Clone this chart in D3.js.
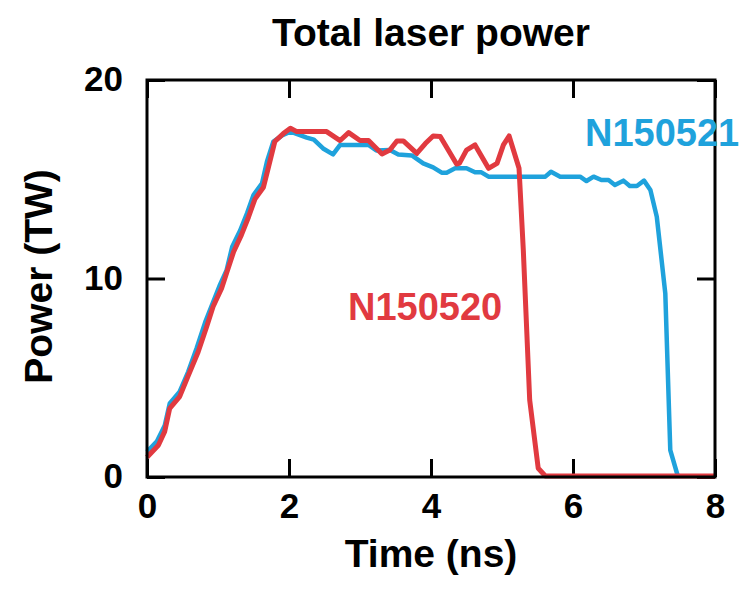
<!DOCTYPE html>
<html>
<head>
<meta charset="utf-8">
<script src="https://cdn.jsdelivr.net/npm/d3@7"></script>
<style>
  html, body { margin: 0; padding: 0; background: #fff; }
  svg { display: block; }
  text { font-family: "Liberation Sans", Arial, Helvetica, sans-serif; font-weight: bold; }
</style>
</head>
<body>
<svg id="chart" width="747" height="589"></svg>
<script>
// ---- data ----
const redName = "N150520";
const redTime = [0, 0.16, 0.25, 0.32, 0.46, 0.58, 0.72, 0.84, 0.93, 1.05, 1.12, 1.22, 1.33, 1.43, 1.52, 1.64, 1.71, 1.80, 1.92, 2.02, 2.11, 2.53, 2.72, 2.84, 3.0, 3.12, 3.31, 3.42, 3.52, 3.61, 3.80, 3.92, 4.03, 4.13, 4.36, 4.40, 4.50, 4.62, 4.81, 4.93, 5.02, 5.10, 5.24, 5.30, 5.39, 5.51, 5.61, 8.0];
const redPower = [1.0, 1.6, 2.3, 3.46, 4.05, 5.1, 6.3, 7.57, 8.58, 9.5, 10.26, 11.35, 12.2, 13.1, 14.0, 14.6, 15.6, 16.9, 17.3, 17.57, 17.4, 17.4, 16.95, 17.35, 16.95, 16.95, 16.27, 16.47, 16.93, 16.93, 16.3, 16.8, 17.18, 17.15, 15.77, 15.8, 16.47, 16.73, 15.55, 15.8, 16.73, 17.18, 15.55, 11.44, 3.88, 0.44, 0.05, 0.05];

const blueName = "N150521";
const blueTime = [0, 0.14, 0.25, 0.32, 0.46, 0.58, 0.70, 0.82, 0.93, 1.03, 1.12, 1.20, 1.31, 1.41, 1.50, 1.62, 1.69, 1.78, 1.90, 2.02, 2.25, 2.35, 2.48, 2.62, 2.72, 3.12, 3.23, 3.42, 3.54, 3.73, 3.89, 4.03, 4.15, 4.22, 4.34, 4.50, 4.62, 4.71, 4.81, 5.61, 5.69, 5.82, 6.10, 6.19, 6.29, 6.40, 6.50, 6.59, 6.71, 6.80, 6.90, 7.0, 7.09, 7.18, 7.30, 7.37, 7.48];
const bluePower = [1.27, 1.8, 2.6, 3.7, 4.3, 5.3, 6.5, 7.8, 8.8, 9.7, 10.4, 11.6, 12.4, 13.3, 14.2, 14.8, 15.9, 16.9, 17.2, 17.4, 17.1, 17.0, 16.55, 16.25, 16.73, 16.73, 16.45, 16.47, 16.25, 16.2, 15.8, 15.6, 15.33, 15.33, 15.55, 15.55, 15.35, 15.35, 15.13, 15.13, 15.38, 15.13, 15.13, 14.91, 15.13, 14.96, 14.96, 14.71, 14.93, 14.66, 14.66, 14.93, 14.46, 13.11, 9.25, 1.36, 0.0];

const xTicks = [0, 2, 4, 6, 8];
const yTicks = [0, 10, 20];
const titleText = "Total laser power";
const xLabel = "Time (ns)";
const yLabel = "Power (TW)";

// ---- layout ----
const W = 747, H = 589;
const margin = { left: 147, right: 32, top: 80, bottom: 112 };
const iw = W - margin.left - margin.right;
const ih = H - margin.top - margin.bottom;
const BLUE = "#1fa2dc", RED = "#e13a40";

const svg = d3.select("#chart");
const g = svg.append("g").attr("transform", `translate(${margin.left},${margin.top})`);

const x = d3.scaleLinear().domain([0, 8]).range([0, iw]);
const y = d3.scaleLinear().domain([0, 20]).range([ih, 0]);

const TICK = 18;
function styleAxis(sel, fontSize) {
  sel.select(".domain").remove();
  sel.selectAll(".tick line").attr("stroke", "#000").attr("stroke-width", 3);
  sel.selectAll(".tick text").attr("fill", "#000").attr("font-size", fontSize)
    .attr("font-family", '"Liberation Sans", Arial, sans-serif').attr("font-weight", "bold");
}

// bottom axis
g.append("g").attr("transform", `translate(0,${ih})`)
  .call(d3.axisBottom(x).tickValues(xTicks).tickFormat(d3.format("d")).tickSizeInner(-TICK).tickSizeOuter(0).tickPadding(16))
  .call(s => styleAxis(s, 35))
  .call(s => s.selectAll(".tick text").attr("y", 16).attr("dy", "0.71em"));
// top axis (ticks only)
g.append("g")
  .call(d3.axisTop(x).tickValues(xTicks).tickFormat("").tickSizeInner(-TICK).tickSizeOuter(0))
  .call(s => styleAxis(s, 35));
// left axis
g.append("g")
  .call(d3.axisLeft(y).tickValues(yTicks).tickFormat(d3.format("d")).tickSizeInner(-TICK).tickSizeOuter(0).tickPadding(24))
  .call(s => styleAxis(s, 35))
  .call(s => s.selectAll(".tick text").attr("x", -24).attr("dy", "0.3em"));
// right axis (ticks only)
g.append("g").attr("transform", `translate(${iw},0)`)
  .call(d3.axisRight(y).tickValues(yTicks).tickFormat("").tickSizeInner(-TICK).tickSizeOuter(0))
  .call(s => styleAxis(s, 35));

// lines
const line = d3.line().x(d => x(d[0])).y(d => y(d[1]));
const blueData = blueTime.map((t, i) => [t, bluePower[i]]);
const redData = redTime.map((t, i) => [t, redPower[i]]);

g.append("path").datum(blueData).attr("d", line)
  .attr("fill", "none").attr("stroke", BLUE).attr("stroke-width", 4.5).attr("stroke-linejoin", "round");
g.append("path").datum(redData).attr("d", line)
  .attr("fill", "none").attr("stroke", RED).attr("stroke-width", 5).attr("stroke-linejoin", "round");

// frame
g.append("rect").attr("x", 0).attr("y", 0).attr("width", iw).attr("height", ih)
  .attr("fill", "none").attr("stroke", "#000").attr("stroke-width", 3);

// series labels
svg.append("text").attr("x", 585).attr("y", 146).attr("font-size", 38).attr("fill", BLUE).text(blueName);
svg.append("text").attr("x", 348).attr("y", 320).attr("font-size", 38).attr("fill", RED).text(redName);

// title and axis labels
svg.append("text").attr("x", margin.left + iw / 2).attr("y", 46).attr("text-anchor", "middle")
  .attr("font-size", 39).attr("fill", "#000").text(titleText);
svg.append("text").attr("x", margin.left + iw / 2).attr("y", 567).attr("text-anchor", "middle")
  .attr("font-size", 39).attr("fill", "#000").text(xLabel);
svg.append("text").attr("transform", `translate(52,${margin.top + ih / 2 - 2}) rotate(-90)`).attr("text-anchor", "middle")
  .attr("font-size", 39).attr("fill", "#000").text(yLabel);
</script>
</body>
</html>
